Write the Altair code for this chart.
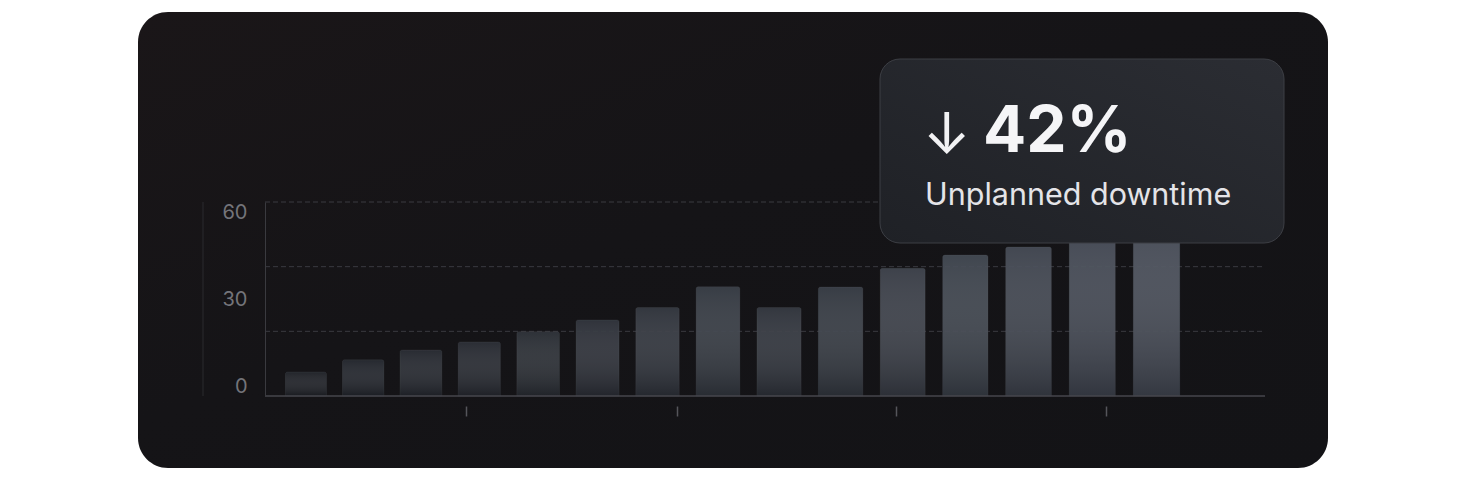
import altair as alt
import pandas as pd

# ---- data ----
bar_index = list(range(15))
downtime = [7.4, 11.2, 14.2, 16.7, 19.9, 23.5, 27.4, 33.8, 27.4, 33.7, 39.5, 43.6, 46.1, 50.0, 53.0]
y_label_values = [0, 30, 60]
grid_values = [20, 40, 60]
x_tick_positions = [2.77, 6.33, 9.89, 13.22]
kpi_value = "42%"
kpi_arrow = "↓"
kpi_label = "Unplanned downtime"

OFF = 105.6  # index offset for the (slightly perspective) pow x-scale
df = pd.DataFrame({"idx": bar_index, "value": downtime})

W, H = 1000, 194
xscale = alt.Scale(type="pow", exponent=2, domain=[104.88, 121.27], nice=False, zero=False, padding=0)
yscale = alt.Scale(domain=[0, 60], nice=False, zero=True, padding=0)
one = alt.Data(values=[{}])

card = alt.Chart(one).mark_rect(
    cornerRadius=30,
    fill={"gradient": "linear", "x1": 0, "y1": 0, "x2": 1, "y2": 1,
          "stops": [{"offset": 0, "color": "#1a1618"},
                    {"offset": 0.45, "color": "#151417"},
                    {"offset": 1, "color": "#131316"}]},
).encode(x=alt.value(-127), x2=alt.value(1063), y=alt.value(-190), y2=alt.value(266))

left_line = alt.Chart(one).mark_rule(color="#2a2a2f", strokeWidth=1).encode(
    x=alt.value(-62), y=alt.value(0), y2=alt.value(H))

grid = alt.Chart(pd.DataFrame({"g": grid_values})).mark_rule(
    color="#3a3a40", strokeDash=[5, 3], strokeWidth=1
).encode(y=alt.Y("g:Q", scale=yscale), x=alt.value(0), x2=alt.value(W))

bars = alt.Chart(df).transform_calculate(
    u0=f"datum.idx + {OFF} - 0.36", u1=f"datum.idx + {OFF} + 0.36"
).mark_bar(
    cornerRadiusTopLeft=2, cornerRadiusTopRight=2,
    stroke="#6a6e76", strokeOpacity=0.18, strokeWidth=1, opacity=0.93,
).encode(
    x=alt.X("u0:Q", scale=xscale,
            axis=alt.Axis(values=[v + OFF for v in x_tick_positions], labels=False, grid=False,
                          domain=False, ticks=True, tickSize=10, tickColor="#55555b",
                          tickWidth=1.5, offset=10, title=None, zindex=1)),
    x2="u1:Q",
    y=alt.Y("value:Q", scale=yscale,
            axis=alt.Axis(values=y_label_values, grid=False, ticks=False, domain=True,
                          domainColor="#3a3a3f", labelColor="#74747a", labelFontSize=20,
                          labelFont="Inter", labelPadding=18, labelFlush=True, title=None,
                          zindex=1)),
    y2=alt.datum(0),
    color=alt.Color("value:Q", scale=alt.Scale(domain=[7, 53], range=["#202329", "#4a505b"],
                                               interpolate="rgb"), legend=None),
)

shade = alt.Chart(df).transform_calculate(
    u0=f"datum.idx + {OFF} - 0.36", u1=f"datum.idx + {OFF} + 0.36"
).mark_bar(
    cornerRadiusTopLeft=2, cornerRadiusTopRight=2,
    fill={"gradient": "linear", "x1": 0, "y1": 0, "x2": 0, "y2": 1,
          "stops": [{"offset": 0, "color": "rgba(255,255,255,0.015)"},
                    {"offset": 1, "color": "rgba(10,11,15,0.30)"}]},
).encode(x=alt.X("u0:Q", scale=xscale), x2="u1:Q",
         y=alt.Y("value:Q", scale=yscale), y2=alt.datum(0))

baseline = alt.Chart(pd.DataFrame({"b": [0]})).mark_rule(color="#46464c", strokeWidth=1.5).encode(
    y=alt.Y("b:Q", scale=yscale), x=alt.value(0), x2=alt.value(W))

kpi_card = alt.Chart(one).mark_rect(
    cornerRadius=20, stroke="#3c3e44", strokeWidth=1,
    fill={"gradient": "linear", "x1": 0, "y1": 1, "x2": 1, "y2": 0,
          "stops": [{"offset": 0, "color": "#1f2126"},
                    {"offset": 1, "color": "#2b2d33"}]},
).encode(x=alt.value(615), x2=alt.value(1019), y=alt.value(-143), y2=alt.value(41))

arrow = alt.Chart(one).mark_text(
    text=kpi_arrow, font="Inter", fontSize=57, fontWeight=400, color="#f2f2f4",
    align="left", baseline="alphabetic").encode(x=alt.value(658), y=alt.value(-48))

big = alt.Chart(one).mark_text(
    text=kpi_value, font="Inter", fontSize=64, fontWeight=700, color="#f5f5f7",
    align="left", baseline="alphabetic").encode(x=alt.value(718), y=alt.value(-50))

sub = alt.Chart(one).mark_text(
    text=kpi_label, font="Inter", fontSize=30.5, fontWeight=400, color="#e4e4e8",
    align="left", baseline="alphabetic").encode(x=alt.value(660), y=alt.value(3))

chart = alt.layer(card, left_line, grid, bars, shade, baseline, kpi_card, arrow, big, sub).properties(
    width=W, height=H,
    autosize=alt.AutoSizeParams(type="none"),
    padding={"left": 257, "top": 194, "right": 187, "bottom": 76},
    background="white",
).configure_view(stroke=None)

chart.save("out.html", embed_options={"renderer": "svg", "actions": False})
